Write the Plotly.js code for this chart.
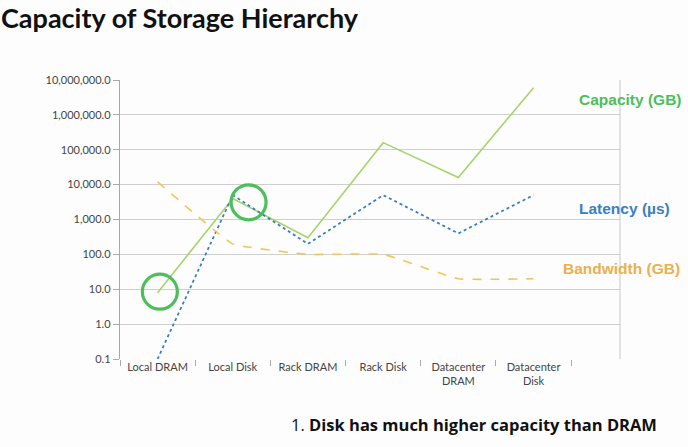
<!DOCTYPE html>
<html><head><meta charset="utf-8">
<script src="https://cdn.plot.ly/plotly-3.0.1.min.js"></script>
<style>html,body{margin:0;padding:0;background:#fdfdfe;}#chart{width:688px;height:447px;}</style>
</head><body><div id="chart"></div>
<script>
const categories = ["Local DRAM", "Local Disk", "Rack DRAM", "Rack Disk", "Datacenter<br>DRAM", "Datacenter<br>Disk"];
const capacity = [8, 4000, 300, 160000, 16000, 6000000];
const latency = [0.1, 5000, 200, 5000, 400, 5000];
const bandwidth = [12000, 200, 100, 100, 20, 20];
const tickVals = [0.1, 1, 10, 100, 1000, 10000, 100000, 1000000, 10000000];
const tickText = ["0.1", "1.0", "10.0", "100.0", "1,000.0", "10,000.0", "100,000.0", "1,000,000.0", "10,000,000.0"];
// highlight circles: category position (index) and value
const circleX = [0.03, 1.21];
const circleY = [8.5, 3100];

const traces = [
  {x: categories, y: capacity, type: "scatter", mode: "lines", name: "Capacity (GB)",
   line: {color: "#a5d46a", width: 1.6}},
  {x: categories, y: latency, type: "scatter", mode: "lines", name: "Latency (µs)",
   line: {color: "#3a7fc1", width: 1.8, dash: "dot"}},
  {x: categories, y: bandwidth, type: "scatter", mode: "lines", name: "Bandwidth (GB)",
   line: {color: "#f2c650", width: 1.6, dash: "dash", shape: "spline", smoothing: 0.3}},
  {x: circleX, y: circleY.map(v => Math.log10(v)), xaxis: "x2", yaxis: "y2", type: "scatter", mode: "markers",
   marker: {symbol: "circle-open", size: 35, color: "#4cbf5a", line: {width: 3.2, color: "#4cbf5a"}}}
];

const shapes = [
  {type: "line", xref: "x", yref: "y", x0: -0.5, x1: 5.5, y0: -1, y1: -1, line: {color: "#a8a8a8", width: 1.2}},
  {type: "line", xref: "paper", yref: "paper", x0: 1, x1: 1, y0: 0, y1: 1, line: {color: "#c8c8c8", width: 1}}
];

const layout = {
  width: 688, height: 447,
  margin: {l: 120, r: 68, t: 80, b: 88},
  paper_bgcolor: "#fdfdfe", plot_bgcolor: "#fdfdfe",
  showlegend: false,
  xaxis: {type: "category", range: [-0.5, 6.15], showgrid: false, showline: false, zeroline: false,
    ticks: "outside", tickson: "boundaries", ticklen: 6, tickcolor: "#aaa",
    tickfont: {family: "Lato", size: 11, color: "#444"}},
  yaxis: {type: "log", range: [-1, 7], tickvals: tickVals, ticktext: tickText,
    showgrid: true, gridcolor: "#cfcfcf", gridwidth: 1, showline: true, linecolor: "#a8a8a8", linewidth: 1.2,
    ticks: "outside", ticklen: 6, tickcolor: "#aaa", zeroline: false,
    tickfont: {family: "Lato", size: 11, color: "#444"}},
  xaxis2: {overlaying: "x", range: [-0.5, 6.15], visible: false, fixedrange: true},
  yaxis2: {overlaying: "y", range: [-1, 7], visible: false, fixedrange: true},
  shapes: shapes,
  annotations: [
    {text: "<b>Capacity of Storage Hierarchy</b>", xref: "paper", yref: "paper", x: -120 / 500, y: 1 + 80 / 279,
     xanchor: "left", yanchor: "top", showarrow: false, borderpad: 0,
     font: {family: "Lato", size: 27, color: "#111"}},
    {text: "<b>Capacity (GB)</b>", xref: "paper", yref: "paper", x: 1.128, y: (359 - 99) / 279, xanchor: "right", yanchor: "middle",
     showarrow: false, font: {family: "Liberation Sans", size: 15.5, color: "#4cbf5a"}},
    {text: "<b>Latency (µs)</b>", xref: "paper", yref: "paper", x: 1.104, y: (359 - 208) / 279, xanchor: "right", yanchor: "middle",
     showarrow: false, font: {family: "Liberation Sans", size: 15.5, color: "#3a7fc1"}},
    {text: "<b>Bandwidth (GB)</b>", xref: "paper", yref: "paper", x: 1.124, y: (359 - 268) / 279, xanchor: "right", yanchor: "middle",
     showarrow: false, font: {family: "Liberation Sans", size: 15.5, color: "#eab04f"}},
    {text: "1. <b>Disk has much higher capacity than DRAM</b>", xref: "paper", yref: "paper", x: 1.078, y: (359 - 424) / 279,
     xanchor: "right", yanchor: "middle", showarrow: false, font: {family: "Open Sans", size: 16.5, color: "#111"}}
  ]
};
Plotly.newPlot("chart", traces, layout, {displayModeBar: false, staticPlot: true});
</script></body></html>
